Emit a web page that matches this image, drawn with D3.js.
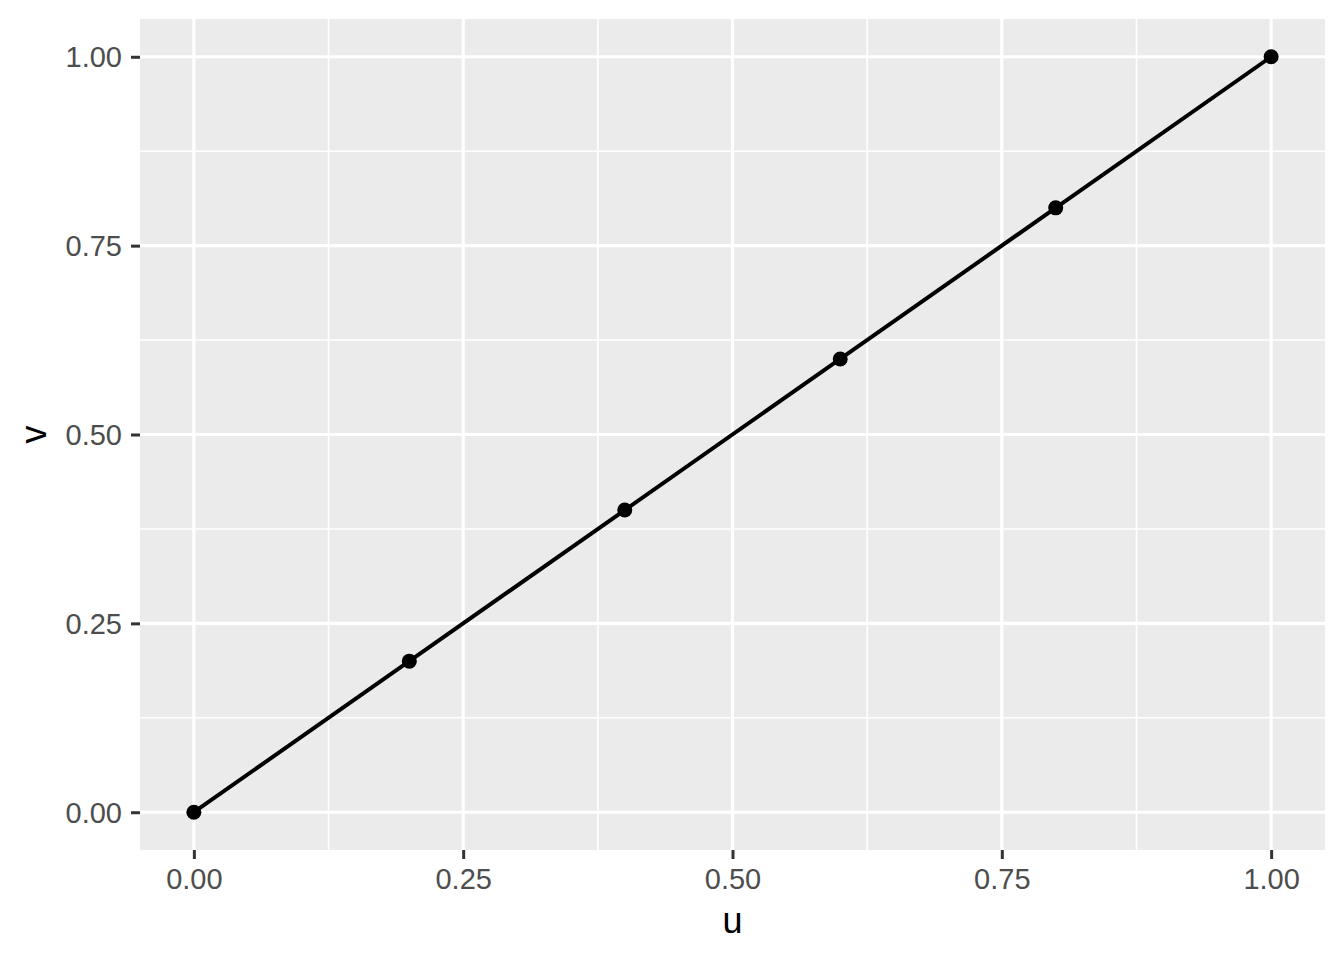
<!DOCTYPE html>
<html>
<head>
<meta charset="utf-8">
<script src="https://cdn.jsdelivr.net/npm/d3@7"></script>
<style>
  body { margin: 0; background: #fff; }
  svg text { font-family: "Liberation Sans", Arial, sans-serif; }
</style>
</head>
<body>
<div id="chart"></div>
<script>
// data
const uValues = [0, 0.2, 0.4, 0.6, 0.8, 1.0];
const vValues = [0, 0.2, 0.4, 0.6, 0.8, 1.0];
const majorTicks = [0, 0.25, 0.5, 0.75, 1.0];
const minorTicks = [0.125, 0.375, 0.625, 0.875];

const width = 1344;
const height = 960;
const panel = { left: 140, right: 1325, top: 19, bottom: 850 };

const svg = d3.select("#chart").append("svg")
  .attr("width", width)
  .attr("height", height);

// ggplot style 5% expansion
const x = d3.scaleLinear().domain([-0.05, 1.05]).range([panel.left, panel.right]);
const y = d3.scaleLinear().domain([-0.05, 1.05]).range([panel.bottom, panel.top]);

// panel background
svg.append("rect")
  .attr("x", panel.left)
  .attr("y", panel.top)
  .attr("width", panel.right - panel.left)
  .attr("height", panel.bottom - panel.top)
  .attr("fill", "#EBEBEB");

const grid = svg.append("g");

// minor grid
grid.selectAll(".minorx").data(minorTicks).enter().append("line")
  .attr("x1", d => x(d)).attr("x2", d => x(d))
  .attr("y1", panel.top).attr("y2", panel.bottom)
  .attr("stroke", "#fff").attr("stroke-width", 1.6);
grid.selectAll(".minory").data(minorTicks).enter().append("line")
  .attr("y1", d => y(d)).attr("y2", d => y(d))
  .attr("x1", panel.left).attr("x2", panel.right)
  .attr("stroke", "#fff").attr("stroke-width", 1.6);

// major grid
grid.selectAll(".majorx").data(majorTicks).enter().append("line")
  .attr("x1", d => x(d)).attr("x2", d => x(d))
  .attr("y1", panel.top).attr("y2", panel.bottom)
  .attr("stroke", "#fff").attr("stroke-width", 3.2);
grid.selectAll(".majory").data(majorTicks).enter().append("line")
  .attr("y1", d => y(d)).attr("y2", d => y(d))
  .attr("x1", panel.left).attr("x2", panel.right)
  .attr("stroke", "#fff").attr("stroke-width", 3.2);

// axes
const fmt = d3.format(".2f");

const xAxis = svg.append("g")
  .attr("transform", `translate(0,${panel.bottom})`)
  .call(d3.axisBottom(x).tickValues(majorTicks).tickFormat(fmt).tickSize(9).tickPadding(9));
const yAxis = svg.append("g")
  .attr("transform", `translate(${panel.left},0)`)
  .call(d3.axisLeft(y).tickValues(majorTicks).tickFormat(fmt).tickSize(9).tickPadding(9));

[xAxis, yAxis].forEach(a => {
  a.select(".domain").remove();
  a.selectAll(".tick line").attr("stroke", "#333333").attr("stroke-width", 3);
  a.selectAll(".tick text")
    .attr("fill", "#4D4D4D")
    .style("font-size", "29px");
});
yAxis.selectAll(".tick text").attr("dy", "0.35em");

// line + points
const line = d3.line()
  .x((d, i) => x(uValues[i]))
  .y((d, i) => y(vValues[i]));

svg.append("path")
  .datum(uValues)
  .attr("d", line)
  .attr("fill", "none")
  .attr("stroke", "#000")
  .attr("stroke-width", 4);

svg.selectAll(".pt")
  .data(uValues)
  .enter()
  .append("circle")
  .attr("cx", (d, i) => x(uValues[i]))
  .attr("cy", (d, i) => y(vValues[i]))
  .attr("r", 7.5)
  .attr("fill", "#000");

// axis titles
svg.append("text")
  .attr("x", (panel.left + panel.right) / 2)
  .attr("y", 933)
  .attr("text-anchor", "middle")
  .style("font-size", "36px")
  .attr("fill", "#000")
  .text("u");

svg.append("text")
  .attr("transform", `translate(46,${(panel.top + panel.bottom) / 2}) rotate(-90)`)
  .attr("text-anchor", "middle")
  .style("font-size", "36px")
  .attr("fill", "#000")
  .text("v");
</script>
</body>
</html>
